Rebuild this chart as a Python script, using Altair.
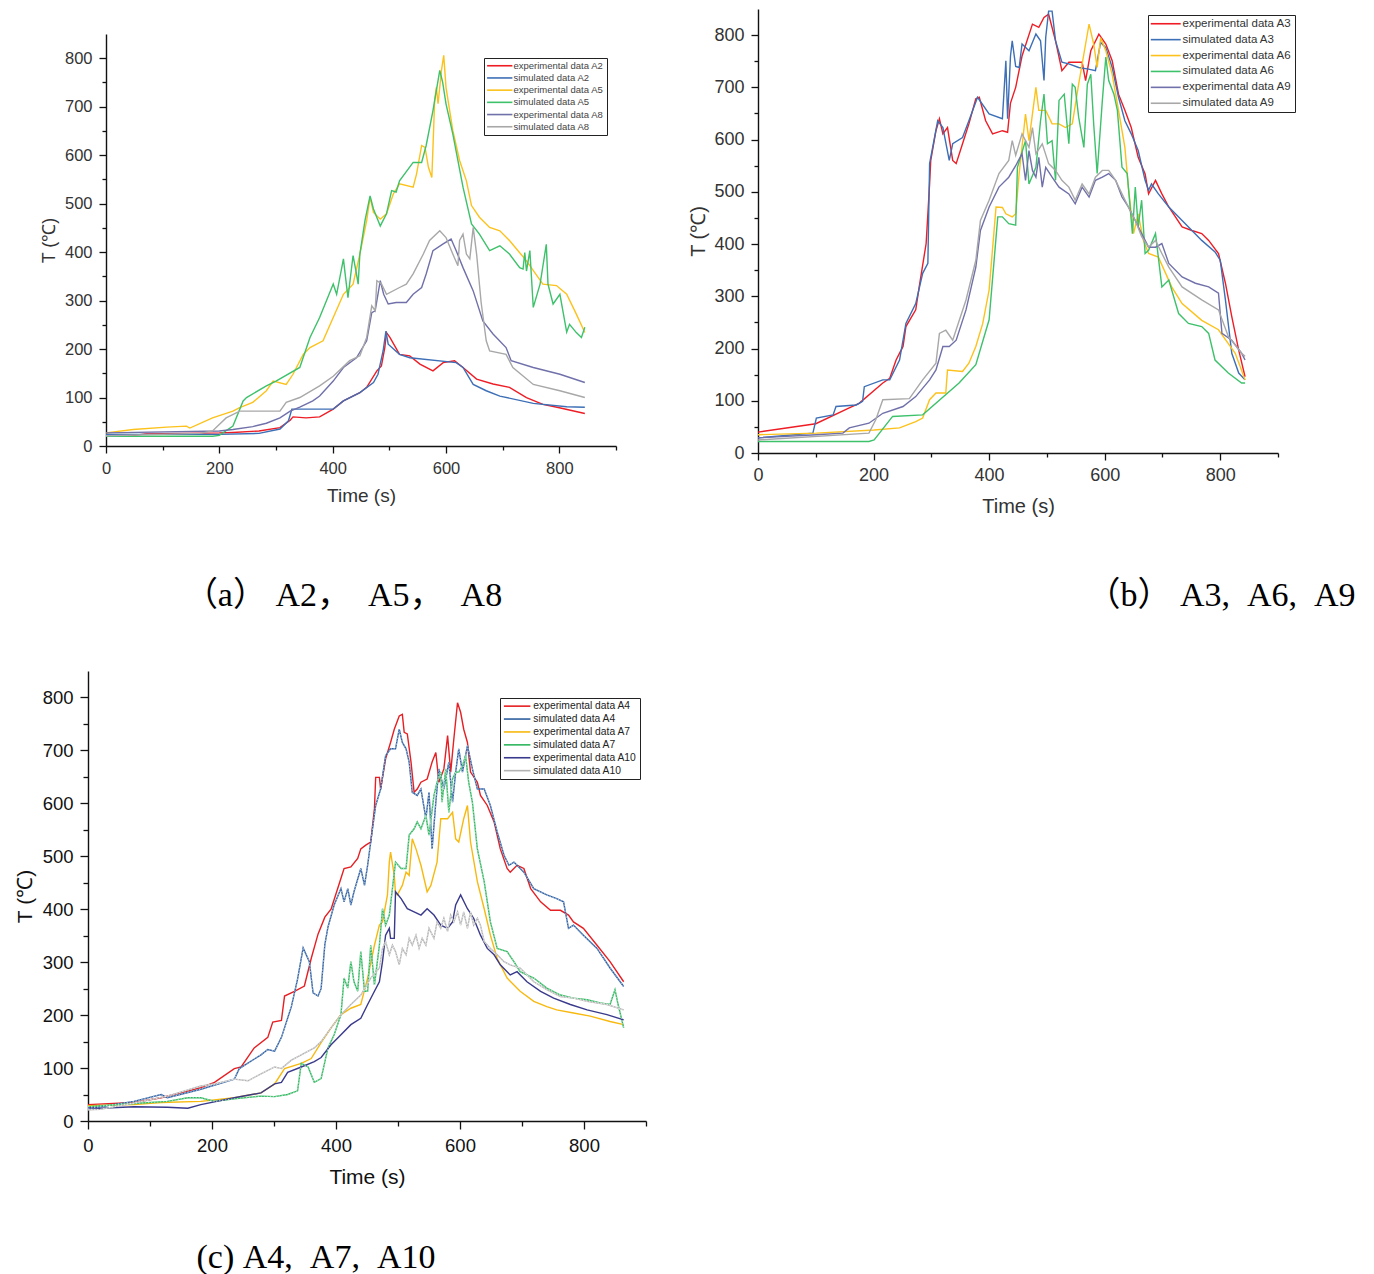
import altair as alt
import pandas as pd

# ---------------- (a) A2, A5, A8 ----------------
A2_EXP_T = [0, 50, 70, 200, 224, 270, 307, 325, 330, 353, 377, 401, 419, 448, 460, 478, 486, 492, 495, 501, 518, 536, 554, 577, 595, 615, 630, 654, 683, 712, 742, 771, 800, 845]
A2_EXP_V = [24, 22, 25, 27, 28, 31, 38, 53, 60, 58, 60, 76, 93, 110, 121, 155, 165, 203, 234, 224, 189, 186, 169, 155, 172, 176, 162, 138, 128, 121, 100, 86, 79, 67]
A2_SIM_T = [0, 200, 270, 307, 322, 328, 401, 419, 448, 472, 480, 489, 494, 498, 518, 536, 618, 630, 648, 671, 695, 754, 813, 845]
A2_SIM_V = [24, 24, 26, 35, 52, 76, 76, 93, 110, 131, 148, 196, 237, 210, 189, 182, 172, 162, 127, 114, 103, 88, 81, 80]
A5_EXP_T = [0, 48, 107, 142, 148, 188, 224, 236, 259, 283, 295, 318, 330, 348, 360, 383, 401, 419, 436, 448, 460, 466, 472, 484, 495, 507, 518, 542, 548, 557, 563, 569, 575, 577, 580, 583, 586, 592, 596, 600, 612, 624, 636, 645, 659, 677, 695, 712, 742, 771, 795, 813, 830, 845]
A5_EXP_V = [27, 34, 39, 41, 37, 58, 72, 79, 90, 114, 134, 127, 148, 189, 203, 217, 265, 313, 334, 396, 465, 513, 482, 468, 479, 520, 541, 534, 561, 620, 616, 575, 554, 616, 713, 740, 706, 775, 806, 740, 651, 589, 547, 496, 472, 451, 444, 424, 382, 334, 331, 313, 272, 234]
A5_SIM_T = [0, 188, 200, 224, 242, 248, 283, 300, 342, 360, 377, 401, 407, 419, 422, 427, 436, 442, 445, 448, 457, 466, 472, 484, 495, 504, 512, 518, 542, 557, 565, 577, 589, 594, 600, 612, 630, 645, 659, 677, 695, 712, 730, 736, 739, 742, 748, 754, 766, 777, 780, 789, 801, 813, 818, 830, 839, 845]
A5_SIM_V = [20, 20, 22, 41, 93, 100, 124, 134, 162, 224, 265, 334, 313, 386, 355, 306, 393, 355, 334, 396, 465, 516, 489, 454, 479, 527, 524, 547, 585, 585, 620, 692, 775, 751, 706, 644, 534, 458, 437, 403, 413, 396, 368, 365, 399, 361, 403, 286, 334, 416, 334, 293, 313, 235, 251, 234, 224, 245]
A8_EXP_T = [0, 200, 224, 259, 283, 307, 325, 342, 365, 377, 401, 419, 442, 460, 469, 475, 484, 490, 498, 512, 530, 542, 557, 565, 577, 595, 609, 618, 630, 648, 665, 683, 706, 715, 754, 801, 845]
A8_EXP_V = [27, 31, 34, 40, 47, 58, 72, 80, 93, 103, 134, 162, 182, 217, 275, 279, 341, 313, 293, 296, 296, 313, 327, 355, 403, 417, 427, 403, 368, 320, 258, 231, 203, 176, 162, 148, 131]
A8_SIM_T = [0, 166, 188, 212, 236, 307, 318, 342, 377, 401, 430, 448, 460, 469, 475, 478, 486, 495, 518, 530, 542, 560, 571, 589, 600, 612, 621, 624, 630, 636, 642, 648, 654, 662, 671, 677, 706, 718, 754, 801, 845]
A8_SIM_V = [21, 26, 31, 58, 72, 72, 90, 100, 124, 144, 176, 186, 224, 289, 279, 341, 335, 313, 327, 334, 355, 396, 424, 444, 430, 396, 372, 424, 437, 396, 386, 451, 396, 296, 217, 196, 189, 162, 127, 114, 100]

# ---------------- (b) A3, A6, A9 ----------------
A3_EXP_T = [0, 100, 157, 175, 216, 228, 239, 251, 256, 273, 279, 291, 297, 299, 308, 314, 320, 328, 337, 343, 354, 365, 377, 383, 394, 406, 423, 432, 437, 446, 457, 475, 486, 495, 503, 515, 526, 538, 561, 567, 576, 590, 602, 613, 624, 635, 646, 658, 670, 676, 688, 699, 711, 734, 751, 768, 780, 797, 809, 820, 832, 843]
A3_EXP_V = [40, 56, 86, 95, 134, 143, 178, 204, 242, 274, 318, 401, 515, 560, 617, 640, 611, 623, 560, 554, 592, 630, 678, 681, 636, 611, 617, 614, 670, 700, 760, 821, 815, 834, 840, 789, 732, 748, 748, 713, 770, 802, 783, 751, 687, 656, 623, 566, 534, 496, 522, 496, 471, 433, 426, 420, 407, 382, 325, 261, 197, 146]
A3_SIM_T = [0, 95, 101, 130, 135, 170, 181, 184, 216, 228, 245, 256, 273, 285, 294, 297, 311, 320, 331, 337, 354, 365, 380, 400, 423, 429, 432, 437, 440, 446, 452, 457, 469, 481, 489, 495, 498, 503, 509, 515, 526, 538, 555, 572, 584, 593, 602, 613, 624, 635, 646, 658, 670, 676, 681, 693, 711, 734, 768, 791, 800, 809, 820, 832, 843]
A3_SIM_V = [29, 38, 67, 73, 89, 92, 99, 127, 140, 140, 178, 248, 286, 344, 363, 554, 636, 623, 560, 592, 604, 636, 681, 649, 640, 751, 640, 760, 789, 740, 738, 783, 770, 802, 789, 713, 796, 846, 846, 789, 748, 745, 738, 735, 732, 786, 776, 738, 681, 636, 611, 579, 522, 503, 515, 496, 471, 445, 407, 385, 369, 293, 191, 153, 140]
A6_EXP_T = [0, 101, 201, 245, 273, 285, 297, 308, 325, 328, 354, 365, 377, 389, 400, 412, 423, 429, 440, 446, 452, 463, 469, 481, 486, 498, 509, 521, 532, 544, 555, 567, 573, 581, 587, 593, 602, 613, 624, 635, 641, 650, 658, 667, 676, 693, 716, 734, 768, 797, 826, 843]
A6_EXP_V = [35, 38, 44, 48, 60, 67, 102, 115, 115, 159, 156, 172, 204, 248, 312, 471, 470, 458, 452, 458, 535, 649, 598, 700, 656, 656, 630, 630, 623, 630, 706, 783, 821, 783, 738, 795, 770, 725, 656, 585, 509, 420, 458, 407, 382, 375, 318, 286, 254, 236, 191, 140]
A6_SIM_T = [0, 192, 201, 233, 285, 348, 377, 400, 415, 423, 434, 446, 449, 463, 469, 481, 489, 495, 501, 509, 515, 521, 530, 538, 544, 549, 555, 564, 570, 576, 581, 587, 596, 602, 607, 616, 622, 630, 639, 648, 653, 658, 664, 670, 676, 688, 699, 711, 728, 745, 768, 780, 791, 814, 837, 843]
A6_SIM_V = [22, 22, 25, 70, 73, 134, 169, 255, 452, 452, 439, 436, 547, 598, 515, 547, 636, 687, 592, 598, 522, 675, 687, 592, 706, 700, 643, 585, 706, 725, 630, 535, 675, 758, 713, 687, 656, 547, 535, 420, 509, 433, 484, 382, 388, 420, 318, 331, 267, 248, 242, 229, 178, 153, 134, 134]
A9_EXP_T = [0, 101, 147, 158, 192, 216, 251, 273, 297, 308, 320, 331, 343, 360, 377, 385, 400, 417, 434, 446, 457, 463, 469, 475, 481, 486, 492, 498, 509, 521, 538, 549, 561, 573, 584, 596, 607, 619, 630, 641, 653, 664, 676, 688, 699, 711, 734, 757, 780, 797, 803, 820, 837, 843]
A9_EXP_V = [29, 35, 38, 48, 57, 76, 89, 108, 140, 159, 204, 204, 216, 274, 356, 426, 471, 509, 528, 550, 573, 522, 579, 541, 528, 566, 509, 547, 528, 509, 496, 477, 509, 490, 522, 528, 535, 522, 490, 471, 445, 420, 394, 394, 401, 363, 337, 325, 318, 306, 229, 216, 191, 178]
A9_SIM_T = [0, 192, 204, 216, 262, 285, 308, 314, 325, 337, 360, 377, 385, 400, 417, 434, 440, 446, 457, 469, 475, 481, 492, 503, 515, 526, 538, 549, 561, 573, 584, 596, 607, 619, 630, 641, 653, 664, 676, 688, 699, 711, 734, 768, 797, 814, 837, 843]
A9_SIM_V = [25, 38, 64, 102, 104, 140, 172, 229, 235, 216, 293, 369, 445, 484, 535, 560, 598, 570, 611, 585, 623, 573, 592, 554, 541, 522, 509, 484, 515, 496, 528, 541, 541, 522, 496, 471, 445, 414, 394, 407, 382, 356, 318, 293, 274, 223, 191, 185]

# ---------------- (c) A4, A7, A10 ----------------
A4_EXP_T = [0, 74, 118, 182, 204, 236, 247, 268, 290, 298, 312, 317, 333, 349, 360, 371, 382, 392, 403, 413, 424, 435, 440, 448, 456, 462, 464, 470, 472, 480, 488, 494, 502, 507, 510, 515, 521, 526, 531, 537, 547, 555, 561, 566, 574, 580, 585, 590, 596, 601, 606, 612, 617, 628, 633, 644, 655, 665, 676, 681, 692, 703, 714, 730, 746, 762, 775, 783, 799, 821, 842, 864]
A4_EXP_V = [31, 35, 44, 63, 73, 99, 102, 138, 158, 187, 190, 236, 245, 255, 307, 353, 385, 400, 440, 477, 480, 496, 514, 521, 527, 590, 649, 649, 627, 684, 715, 740, 765, 768, 734, 731, 678, 621, 627, 640, 646, 678, 696, 640, 665, 728, 659, 721, 790, 772, 740, 715, 659, 640, 615, 596, 565, 514, 477, 470, 483, 477, 439, 414, 398, 398, 389, 376, 364, 332, 301, 263]
A4_SIM_T = [0, 20, 74, 118, 128, 182, 236, 244, 279, 290, 301, 312, 328, 338, 347, 357, 363, 371, 376, 382, 387, 397, 408, 413, 419, 424, 429, 440, 446, 451, 456, 464, 472, 480, 488, 496, 502, 507, 513, 518, 523, 531, 537, 545, 550, 555, 561, 566, 574, 582, 588, 593, 598, 604, 612, 620, 628, 639, 649, 660, 671, 679, 687, 703, 719, 740, 756, 767, 775, 783, 799, 821, 842, 864]
A4_SIM_V = [24, 27, 37, 50, 44, 60, 79, 99, 125, 135, 132, 158, 216, 268, 327, 301, 242, 236, 250, 333, 366, 408, 439, 414, 439, 408, 433, 477, 445, 483, 527, 596, 627, 690, 703, 703, 740, 715, 703, 678, 621, 615, 627, 571, 621, 514, 602, 665, 627, 678, 602, 659, 703, 659, 709, 665, 627, 627, 596, 546, 502, 483, 489, 470, 439, 427, 420, 414, 364, 370, 351, 326, 289, 254]
A7_EXP_T = [0, 74, 118, 182, 236, 279, 301, 317, 344, 360, 376, 392, 408, 424, 440, 451, 462, 470, 475, 483, 486, 488, 494, 496, 499, 507, 513, 518, 523, 529, 537, 547, 553, 563, 569, 580, 588, 593, 598, 606, 612, 617, 628, 639, 649, 660, 676, 697, 719, 740, 756, 783, 810, 842, 864]
A7_EXP_V = [29, 31, 35, 37, 44, 53, 70, 99, 109, 118, 148, 176, 201, 213, 220, 270, 332, 370, 376, 427, 489, 508, 464, 430, 427, 445, 470, 464, 533, 514, 483, 433, 445, 489, 571, 571, 583, 533, 527, 571, 596, 527, 452, 401, 351, 307, 270, 245, 226, 216, 210, 204, 198, 188, 182]
A7_SIM_T = [0, 74, 128, 161, 182, 204, 236, 279, 301, 322, 338, 344, 355, 365, 376, 387, 397, 408, 413, 419, 424, 429, 435, 440, 446, 451, 456, 462, 470, 475, 480, 486, 491, 496, 505, 513, 518, 526, 531, 537, 545, 550, 558, 563, 569, 571, 577, 582, 588, 593, 598, 604, 609, 614, 620, 628, 639, 649, 660, 676, 687, 697, 719, 740, 762, 783, 805, 826, 842, 850, 855, 864]
A7_SIM_V = [27, 33, 37, 44, 44, 37, 42, 47, 46, 50, 57, 109, 102, 73, 80, 138, 163, 201, 270, 251, 301, 263, 245, 320, 245, 245, 332, 257, 332, 401, 370, 389, 439, 489, 477, 477, 540, 552, 565, 552, 577, 540, 615, 640, 659, 602, 665, 583, 646, 659, 659, 671, 690, 640, 602, 514, 452, 376, 326, 320, 301, 282, 270, 251, 238, 232, 229, 223, 220, 248, 220, 176]
A10_EXP_T = [0, 20, 74, 128, 161, 182, 236, 279, 301, 312, 322, 344, 365, 376, 392, 408, 424, 440, 451, 462, 470, 475, 480, 486, 488, 494, 496, 505, 515, 526, 537, 547, 558, 569, 580, 588, 593, 601, 612, 622, 633, 644, 655, 665, 681, 692, 708, 730, 751, 778, 805, 837, 864]
A10_EXP_V = [25, 24, 27, 26, 24, 31, 44, 53, 70, 73, 92, 102, 112, 120, 144, 163, 182, 194, 220, 245, 263, 301, 351, 364, 345, 345, 433, 420, 401, 395, 389, 401, 389, 370, 364, 376, 408, 427, 401, 383, 351, 326, 314, 295, 276, 282, 263, 245, 232, 220, 210, 201, 191]
A10_SIM_T = [0, 20, 74, 128, 182, 204, 236, 258, 279, 301, 312, 328, 344, 365, 376, 392, 408, 424, 440, 456, 470, 475, 480, 486, 491, 496, 502, 507, 513, 518, 523, 529, 534, 539, 545, 550, 558, 563, 569, 574, 580, 585, 590, 596, 601, 606, 612, 617, 622, 628, 633, 639, 649, 660, 671, 681, 697, 719, 740, 762, 783, 805, 837, 864]
A10_SIM_V = [21, 22, 34, 47, 66, 70, 79, 76, 89, 102, 99, 115, 125, 138, 150, 176, 201, 220, 238, 270, 289, 326, 339, 314, 332, 320, 295, 326, 314, 345, 332, 351, 326, 345, 332, 364, 345, 376, 364, 383, 358, 389, 376, 395, 370, 395, 364, 395, 370, 383, 370, 339, 326, 314, 301, 295, 289, 263, 248, 235, 232, 226, 220, 210]

SERIES_A = [
    ("experimental data A2", A2_EXP_T, A2_EXP_V),
    ("simulated data A2", A2_SIM_T, A2_SIM_V),
    ("experimental data A5", A5_EXP_T, A5_EXP_V),
    ("simulated data A5", A5_SIM_T, A5_SIM_V),
    ("experimental data A8", A8_EXP_T, A8_EXP_V),
    ("simulated data A8", A8_SIM_T, A8_SIM_V),
]
SERIES_B = [
    ("experimental data A3", A3_EXP_T, A3_EXP_V),
    ("simulated data A3", A3_SIM_T, A3_SIM_V),
    ("experimental data A6", A6_EXP_T, A6_EXP_V),
    ("simulated data A6", A6_SIM_T, A6_SIM_V),
    ("experimental data A9", A9_EXP_T, A9_EXP_V),
    ("simulated data A9", A9_SIM_T, A9_SIM_V),
]
SERIES_C = [
    ("experimental data A4", A4_EXP_T, A4_EXP_V),
    ("simulated data A4", A4_SIM_T, A4_SIM_V),
    ("experimental data A7", A7_EXP_T, A7_EXP_V),
    ("simulated data A7", A7_SIM_T, A7_SIM_V),
    ("experimental data A10", A10_EXP_T, A10_EXP_V),
    ("simulated data A10", A10_SIM_T, A10_SIM_V),
]

COLORS_AB = ["#ee1c25", "#3d6fb6", "#fcc21b", "#3dc16b", "#7070aa", "#a8a8a8"]
COLORS_C = ["#e51f23", "#2e5e9e", "#f7b90f", "#2fb55e", "#3a3a8c", "#b3b3b3"]
SIM_LIGHT_C = ["#c4d8f2", "#c9f1d8", "#f4f4f4"]

NB = "\u00a0"  # non-collapsing space inside the captions
CAPTION_A = "（a）" + NB + "A2，" + NB * 2 + "A5，" + NB * 2 + "A8"
CAPTION_B = "（b）" + NB + "A3," + NB * 2 + "A6," + NB * 2 + "A9"
CAPTION_C = "(c)" + NB + "A4," + NB * 2 + "A7," + NB * 2 + "A10"

SANS = "Liberation Sans"
SERIF = "Liberation Serif, Noto Sans CJK SC"
# horizontal stroke used as the legend sample line
LEGEND_LINE = "M-8,0L8,0"


def frame(series):
    rows = []
    for name, ts, vs in series:
        for order, (t, v) in enumerate(zip(ts, vs)):
            rows.append({"series": name, "t": t, "T": v, "o": order})
    return pd.DataFrame(rows)


def axis_x(size, title_size, color, tick, pad, title_pad):
    return alt.Axis(
        values=list(range(0, 901, 100)), grid=False,
        labelExpr="datum.value % 200 === 0 ? datum.label : ''",
        tickSize={"condition": {"test": "datum.value % 200 === 0", "value": tick}, "value": tick - 3},
        labelFont=SANS, labelFontSize=size, labelColor=color, labelPadding=pad,
        titleFont=SANS, titleFontSize=title_size, titleColor=color, titleFontWeight="normal",
        titlePadding=title_pad, labelFlush=False,
        domainColor="#111", tickColor="#111", domainWidth=1.4, tickWidth=1.3,
    )


def axis_y(size, title_size, color, tick, pad, title_pad, offset=0):
    return alt.Axis(
        values=list(range(0, 801, 50)), grid=False, offset=offset,
        labelExpr="datum.value % 100 === 0 ? datum.label : ''",
        tickSize={"condition": {"test": "datum.value % 100 === 0", "value": tick}, "value": tick - 3},
        labelFont=SANS, labelFontSize=size, labelColor=color, labelPadding=pad,
        titleFont=SANS, titleFontSize=title_size, titleColor=color, titleFontWeight="normal",
        titlePadding=title_pad, labelFlush=False,
        domainColor="#111", tickColor="#111", domainWidth=1.4, tickWidth=1.3,
    )


def pin(px, py):
    # invisible anchor that fixes the extent of a panel inside the grid
    return alt.Chart(pd.DataFrame({"z": [0]})).mark_point(
        size=1, opacity=0, filled=True
    ).encode(x=alt.value(px), y=alt.value(py))


def panel(series, colors, width, height, ax, ay, legend, caption, cap_x, cap_y,
          extent, xrange=None, yrange=None, light=None):
    df = frame(series)
    names = [s[0] for s in series]
    xs = alt.Scale(domain=[0, 900], nice=False) if xrange is None else \
        alt.Scale(domain=[0, 900], nice=False, range=xrange)
    ys = alt.Scale(domain=[0, 850], nice=False) if yrange is None else \
        alt.Scale(domain=[0, 850], nice=False, range=yrange)
    x = alt.X("t:Q", title="Time (s)", scale=xs, axis=ax)
    y = alt.Y("T:Q", title="T (℃)", scale=ys, axis=ay)
    lines = alt.Chart(df).mark_line(strokeWidth=1.4).encode(
        x=x, y=y, order="o:Q",
        color=alt.Color("series:N", title=None,
                        scale=alt.Scale(domain=names, range=colors),
                        legend=legend),
    )
    layers = [lines]
    if light is not None:
        sims = [n for n in names if n.startswith("simulated")]
        over = alt.Chart(df[df["series"].isin(sims)]).mark_line(
            strokeWidth=0.8, strokeDash=[1.5, 1.5]
        ).encode(
            x=x, y=y, order="o:Q",
            stroke=alt.Stroke("series:N", scale=alt.Scale(domain=sims, range=light), legend=None),
        )
        layers.append(over)
    cap = alt.Chart(pd.DataFrame({"cap": [caption]})).mark_text(
        font=SERIF, fontSize=34, align="center", baseline="middle", color="black"
    ).encode(text="cap:N", x=alt.value(cap_x), y=alt.value(cap_y))
    layers.append(cap)
    (x0, y0), (x1, y1) = extent
    layers.append(pin(x0, y0))
    layers.append(pin(x1, y1))
    return alt.layer(*layers).properties(
        width=width, height=height,
        view=alt.ViewBackground(strokeWidth=0, stroke="transparent"),
    )


def legend(x, y, size, font, color, row_pad, sym_off, lab_off):
    return alt.Legend(orient="none", legendX=x, legendY=y, symbolType=LEGEND_LINE,
                      symbolSize=size, symbolStrokeWidth=1.6, symbolOffset=sym_off,
                      labelFont=SANS, labelFontSize=font, labelColor=color,
                      labelOffset=lab_off, rowPadding=row_pad,
                      strokeColor="#222", fillColor="white", padding=3, labelLimit=250)


legend_a = legend(396, 49, 10, 9.5, "#444", 1.2, 8, 9)
legend_b = legend(390, 6, 14, 11.5, "#333", 2.9, 9, 11)
legend_c = legend(412, 27, 11, 10.3, "#222", 1.9, 9, 11)

# panel (a) shares its grid column with (c) and its grid row with (b);
# its own axes sit inside a slightly larger view via scale ranges.
chart_a = panel(SERIES_A, COLORS_AB, 528, 437,
                axis_x(16.5, 19, "#333", 7, 7, 10),
                axis_y(16.5, 18, "#333", 7, 7, 6, offset=-18),
                legend_a, CAPTION_A, 255, 587, ((-87, -8), (588, 632)),
                xrange=[18, 528], yrange=[437, 25])
chart_b = panel(SERIES_B, COLORS_AB, 520, 444,
                axis_x(18, 20, "#333", 7, 6, 12), axis_y(18, 20, "#333", 7, 7, 5),
                legend_b, CAPTION_B, 463, 587, ((-80, -8), (612, 632)))
chart_c = panel(SERIES_C, COLORS_C, 558, 450,
                axis_x(18.5, 21, "#111", 8, 7, 12), axis_y(18.5, 21, "#111", 8, 7, 7),
                legend_c, CAPTION_C, 228, 587, ((-87, -28), (550, 600)), light=SIM_LIGHT_C)

top_row = alt.hconcat(chart_a, chart_b, spacing=0).resolve_scale(
    color="independent", x="independent", y="independent")

chart = alt.vconcat(top_row, chart_c, spacing=0).resolve_scale(
    color="independent", x="independent", y="independent", stroke="independent"
).properties(
    padding=0, background="white"
).configure_view(strokeWidth=0, stroke="transparent").configure_axis(grid=False)

chart.save("out.html", embed_options={"renderer": "svg", "actions": False})
